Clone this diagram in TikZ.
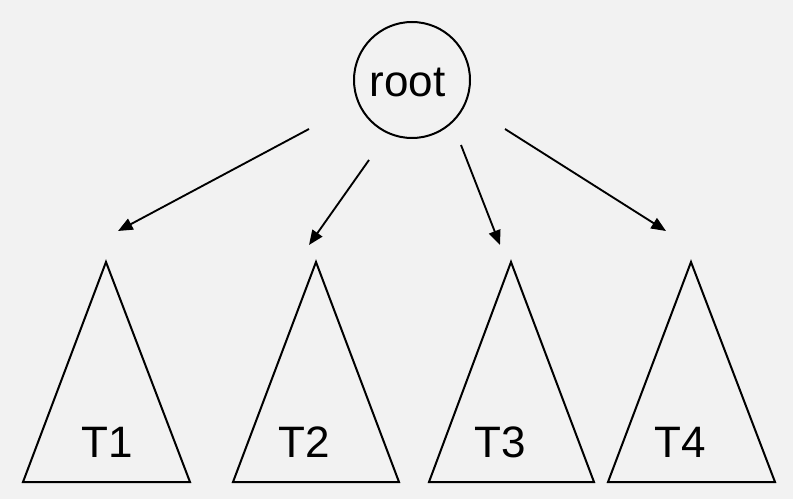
\documentclass[tikz,border=0pt]{standalone}
\usepackage{fontspec}
\setmainfont{Liberation Sans}
\usetikzlibrary{arrows.meta}
\definecolor{paper}{HTML}{F2F2F2}
\begin{document}
\begin{tikzpicture}[x=0.75pt,y=-0.75pt,line width=1.5pt,
  rootnode/.style={draw,circle,minimum size=87pt,inner sep=0pt},
  subtree/.style={draw,line join=miter},
  lbl/.style={font=\fontsize{33}{40}\selectfont,inner sep=0pt,anchor=base},
  edge/.style={-{Triangle[length=11pt,width=9pt]},line width=1.4pt}]
  % background and page size
  \fill[paper] (0,0) rectangle (793,499);
  \useasboundingbox (0,0) rectangle (793,499);
  % root
  \node[rootnode] (root) at (412,80) {};
  \node[lbl] (rootlbl) at (407.5,97) {root};
  % subtrees with their labels
  \foreach \i/\ax/\l/\r/\tx in {1/106/23/190/107,2/316/233/399/304.5,3/511/429/594/500,4/691/608/775/680}{
    \coordinate (apex\i) at (\ax,262);
    \coordinate (bl\i) at (\l,482);
    \coordinate (br\i) at (\r,482);
    \draw[subtree] (apex\i) -- (br\i) -- (bl\i) -- cycle;
    \node[lbl] (t\i) at (\tx,457) {T\i};
  }
  % edges from root towards the subtrees
  \coordinate (s1) at (309,129); \coordinate (e1) at (118,231);
  \coordinate (s2) at (369,160); \coordinate (e2) at (309,245);
  \coordinate (s3) at (461,145); \coordinate (e3) at (500,245);
  \coordinate (s4) at (505,129); \coordinate (e4) at (666,231);
  \foreach \i in {1,2,3,4}{\draw[edge] (s\i) -- (e\i);}
\end{tikzpicture}
\end{document}
